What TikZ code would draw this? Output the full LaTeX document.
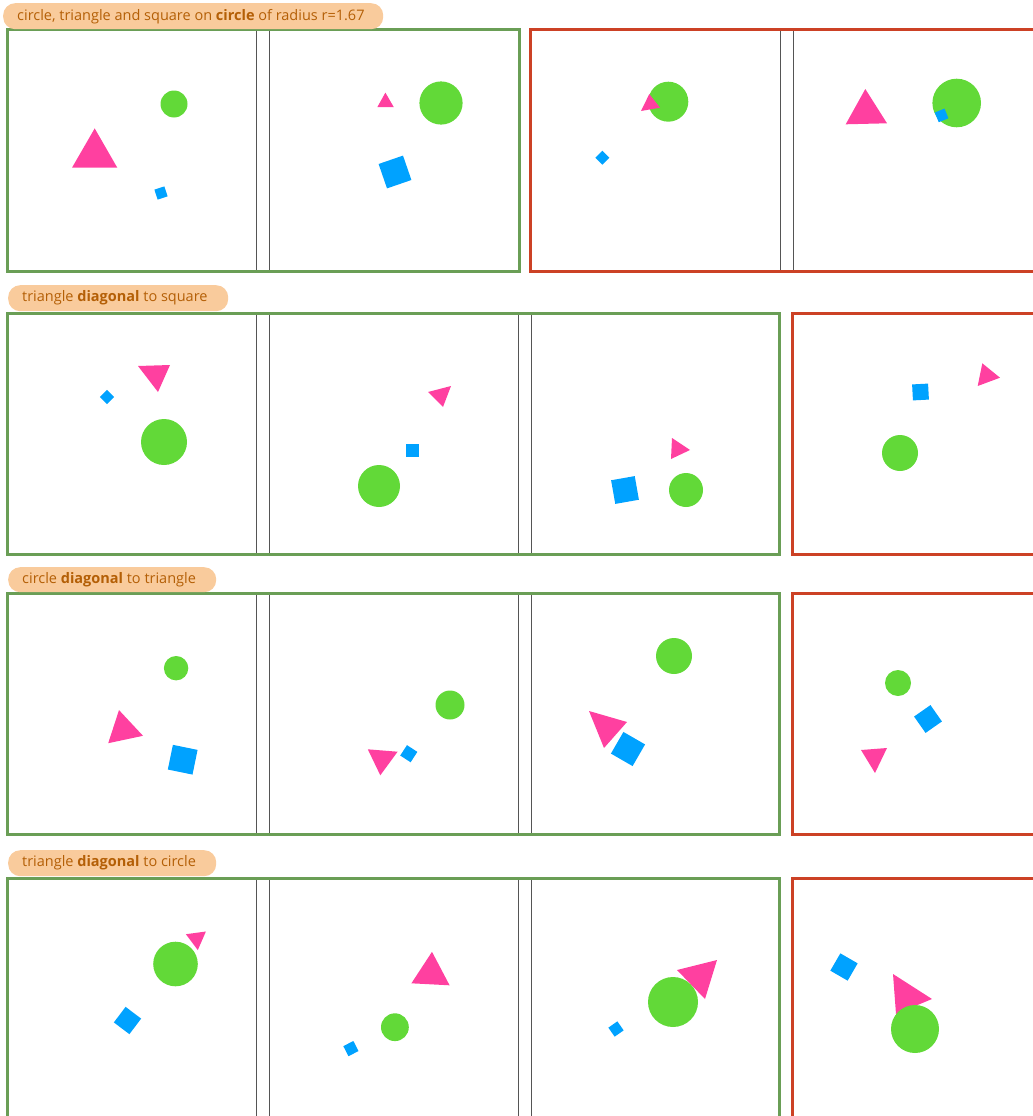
\documentclass[tikz,border=0pt]{standalone}
\usepackage{fontspec}
\setmainfont{Open Sans}
\definecolor{gcol}{HTML}{62D938}
\definecolor{pcol}{HTML}{FF40A0}
\definecolor{bcol}{HTML}{00A2FF}
\definecolor{gframe}{HTML}{6A9E56}
\definecolor{rframe}{HTML}{CC4125}
\definecolor{pillfill}{HTML}{F9CB9C}
\definecolor{pilltext}{HTML}{B45F06}
\definecolor{panelline}{HTML}{555555}
\tikzset{
  pill/.style={fill=pillfill, rounded corners=12pt, inner sep=0pt, anchor=north west},
  pilllabel/.style={text=pilltext, anchor=west, inner sep=0pt, font=\fontsize{14.5}{17}\selectfont},
  panel/.style={draw=panelline, line width=1pt},
  goodframe/.style={draw=gframe, line width=3pt},
  badframe/.style={draw=rframe, line width=3pt},
}
\newcommand{\sq}[4]{\fill[bcol, shift={(#1,#2)}, rotate=#4] (-#3/2,-#3/2) rectangle (#3/2,#3/2);}
\newcommand{\ci}[3]{\fill[gcol] (#1,#2) circle[radius=#3pt];}
\newcommand{\tri}[6]{\fill[pcol] (#1,#2) -- (#3,#4) -- (#5,#6) -- cycle;}
\begin{document}
\begin{tikzpicture}[x=1pt,y=-1pt]
\useasboundingbox (0,0) rectangle (1033,1116);
\clip (0,0) rectangle (1033,1116);
% panels
\foreach \T in {30,313,593,878}{
  \foreach \i in {0,1,2,3}{
    \draw[panel] ({7+262*\i},\T) rectangle ({256+262*\i},\T+241);
  }
}
% frames
\draw[goodframe] (7,30) rectangle (519,271);
\draw[badframe] (530,30) rectangle (1045,271);
\foreach \T in {313,593,878}{
  \draw[goodframe] (7,\T) rectangle (779,\T+241);
  \draw[badframe] (792,\T) rectangle (1045,\T+241);
}
% labels
\node[pill, minimum width=380pt, minimum height=26pt] (p1) at (3,3) {};
\node[pilllabel] (l1) at ([xshift=14pt]p1.west) {circle, triangle and square on \textbf{circle} of radius r=1.67};
\node[pill, minimum width=220pt, minimum height=26pt] (p2) at (8,285) {};
\node[pilllabel] (l2) at ([xshift=14pt]p2.west) {triangle \textbf{diagonal} to square};
\node[pill, minimum width=208pt, minimum height=25pt] (p3) at (8,567) {};
\node[pilllabel] (l3) at ([xshift=14pt]p3.west) {circle \textbf{diagonal} to triangle};
\node[pill, minimum width=208pt, minimum height=26pt] (p4) at (8,850) {};
\node[pilllabel] (l4) at ([xshift=14pt]p4.west) {triangle \textbf{diagonal} to circle};
% row 1
\ci{174}{104}{13.5}
\tri{94.7}{128.4}{72}{167.7}{117.3}{167.7}
\sq{161}{193}{10.5}{18}
\tri{385.4}{92.6}{377.3}{107.2}{393.8}{107.2}
\ci{441}{103}{21.6}
\sq{395}{172}{25.8}{19}
\ci{668.3}{101.7}{20}
\tri{649.3}{94}{641}{111}{660}{107.7}
\sq{602.3}{157.7}{9.9}{45}
\tri{865.3}{89}{845.7}{124.3}{887}{123.3}
\ci{956.7}{103}{24.3}
\sq{941.6}{115.4}{10.5}{22}
% row 2
\tri{138}{366}{170}{365}{158}{392}
\sq{107}{397}{10}{45}
\ci{164}{442}{23}
\tri{428}{392}{451}{386}{443}{407}
\sq{412}{450}{13}{0}
\ci{379}{486}{21}
\tri{672}{438}{690}{450}{671}{459}
\sq{625}{490}{24}{10}
\ci{686}{490}{17}
\sq{920.5}{392}{16}{3}
\tri{982.3}{363.3}{1000}{377.7}{977.7}{386}
\ci{900}{453}{18}
% row 3
\ci{176.1}{668.2}{12.2}
\tri{119}{710.1}{108.2}{743.2}{143}{735.8}
\sq{182.7}{759.7}{25.2}{-11.6}
\ci{450}{705}{14.5}
\tri{367.8}{749.3}{397.6}{751.7}{380.3}{775.3}
\sq{408.8}{753.7}{12.4}{-33}
\ci{674}{656}{18}
\tri{589}{711}{627}{722}{604}{748}
\sq{628}{749}{25}{-30}
\ci{898}{683}{13}
\sq{928}{719}{20}{35}
\tri{861}{750}{887}{748}{875}{773}
% row 4
\ci{175.5}{964}{22.3}
\tri{185.9}{934.2}{205.9}{931.5}{197.8}{950.1}
\sq{127.5}{1020.5}{19.5}{-37}
\tri{432}{951.8}{411.4}{983.3}{449.6}{985.3}
\ci{394.9}{1027.2}{13.9}
\sq{350.9}{1048.6}{11.3}{27}
\ci{673}{1002}{25}
\tri{677}{970}{717}{960}{705}{999}
\sq{616}{1029}{11}{35}
\sq{844}{967}{20}{-30}
\tri{893}{974}{932}{999}{896}{1014}
\ci{915}{1029}{24}
\end{tikzpicture}
\end{document}
